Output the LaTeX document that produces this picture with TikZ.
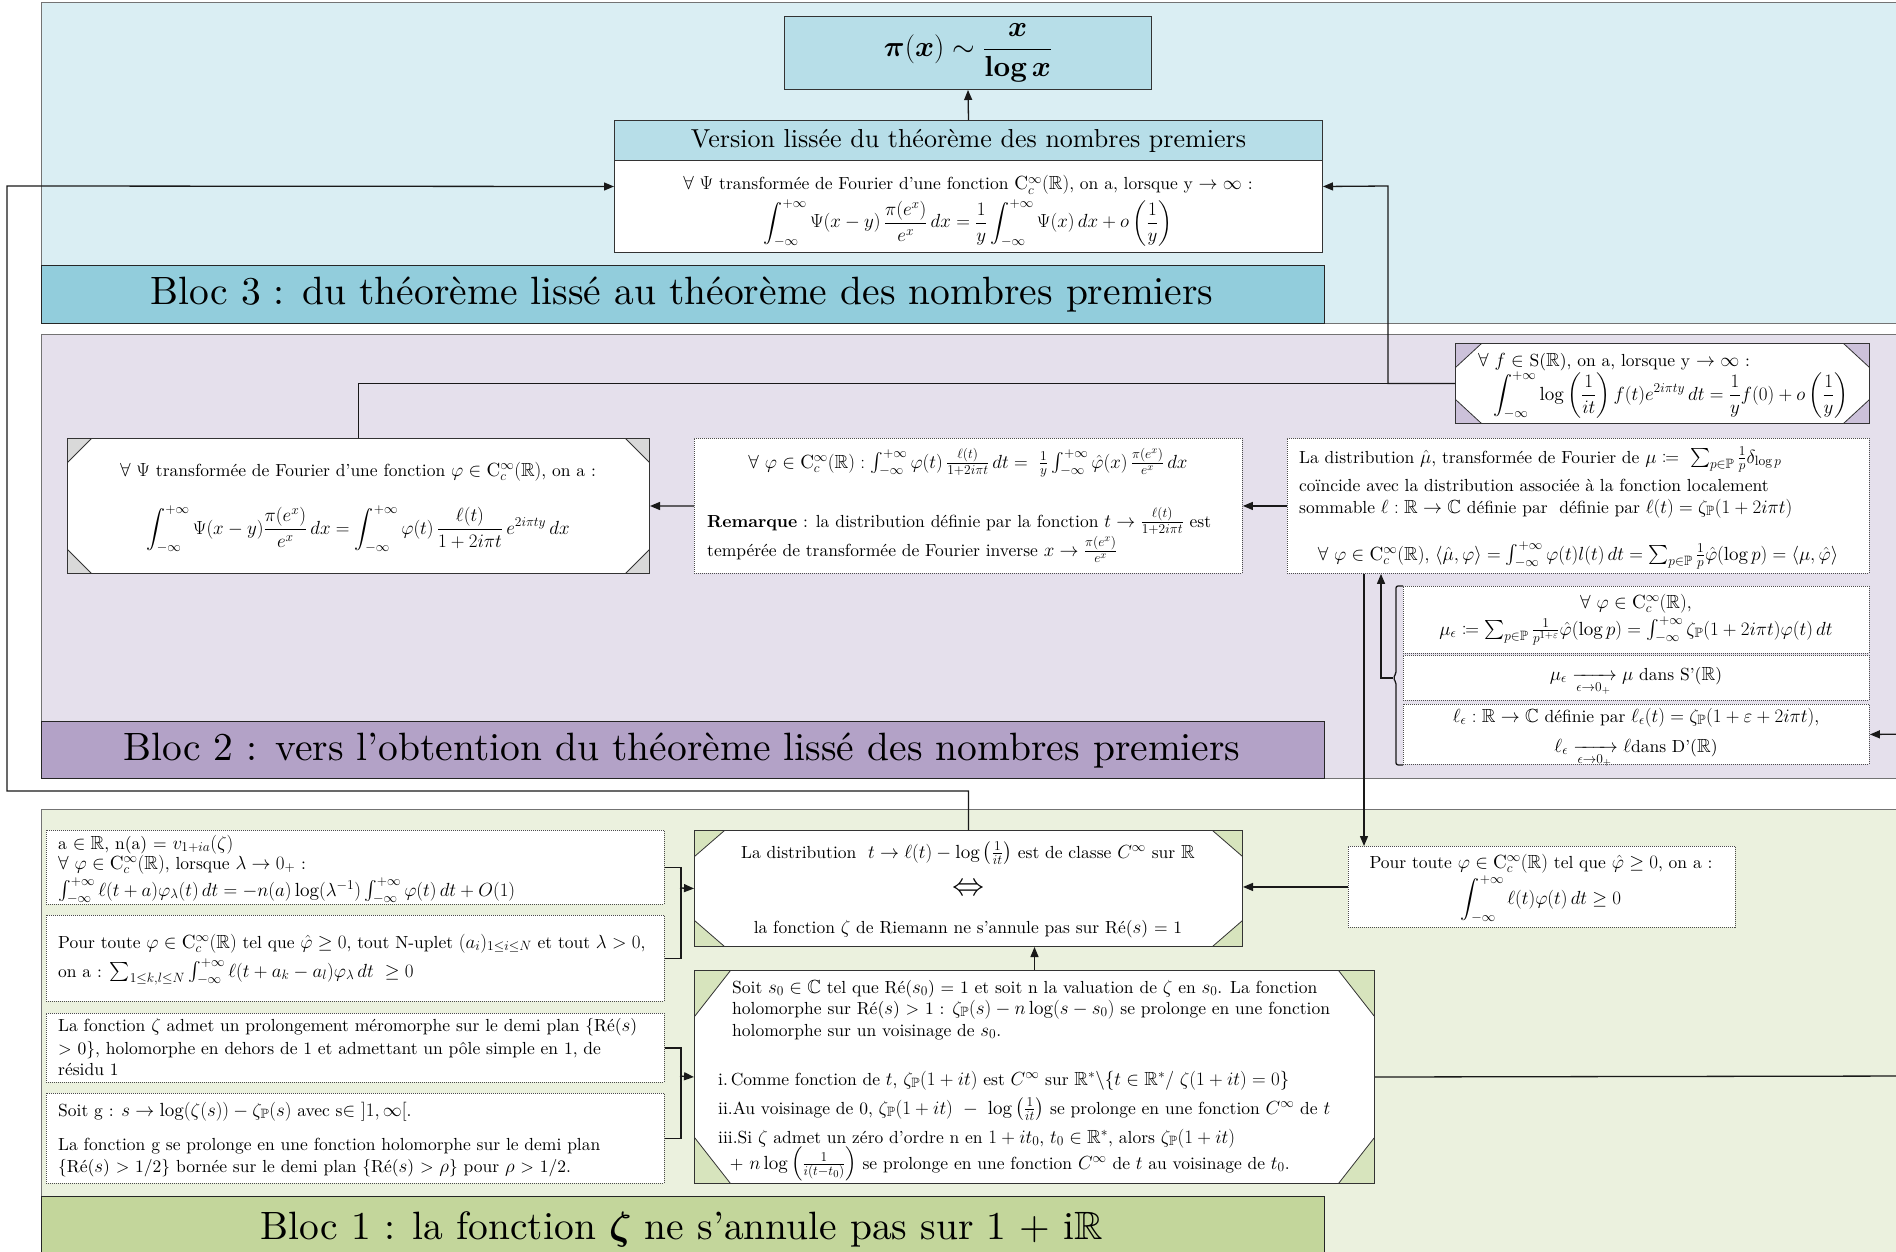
\RequirePackage{fix-cm}
\documentclass[tikz,border=0pt]{standalone}
\usepackage{amsmath,amssymb,mathtools}
\usepackage{fontspec}
\setmainfont{lmroman10-regular.otf}[BoldFont=lmroman10-bold.otf, ItalicFont=lmroman10-italic.otf, BoldItalicFont=lmroman10-bolditalic.otf]
\DeclareMathSizes{17.5}{19}{13.5}{10.5}
\usetikzlibrary{arrows.meta,calc}
\definecolor{bgthree}{HTML}{DAEEF3}
\definecolor{fillpi}{HTML}{B7DEE8}
\definecolor{labthree}{HTML}{92CDDC}
\definecolor{bgtwo}{HTML}{E5E0EC}
\definecolor{labtwo}{HTML}{B3A2C7}
\definecolor{cornlilac}{HTML}{CCC1DA}
\definecolor{corngray}{HTML}{D9D9D9}
\definecolor{bgone}{HTML}{EBF1DE}
\definecolor{labone}{HTML}{C3D69B}
\definecolor{corngreen}{HTML}{D7E4BD}
\newcommand\bodyfont{\fontsize{17.5}{21}\selectfont}
\newcommand\pifont{\fontsize{29}{35}\selectfont}
\newcommand\headfont{\fontsize{26}{30}\selectfont}
\newcommand\eqvfont{\fontsize{32}{36}\selectfont}
\newcommand\Ccinf{\mathrm{C}^{\infty}_{c}(\mathbb{R})}
\newcommand\zP{\zeta_{\mathbb{P}}}
\begin{document}
\begin{tikzpicture}[x=1pt,y=-1pt,
  panel/.style={draw=black!55, line width=1.2pt, inner sep=0pt, anchor=north west},
  label/.style={draw=black!85, line width=1.2pt, inner sep=0pt, anchor=north west},
  solidbox/.style={draw=black!80, line width=1pt, inner sep=0pt, anchor=north west},
  dotbox/.style={draw=black!70, line width=0.9pt, dash pattern=on 1pt off 1pt, fill=white, inner sep=0pt, anchor=north west},
  snip/.style n args={3}{draw=black!80, line width=1pt, fill=white, inner sep=0pt, anchor=north west,
    path picture={
      \path (path picture bounding box.north west) coordinate (pwa)
            (path picture bounding box.north east) coordinate (pwb)
            (path picture bounding box.south west) coordinate (pwc)
            (path picture bounding box.south east) coordinate (pwd);
      \filldraw[fill=#1, draw=black!80, line width=0.8pt] (pwa) -- ++(#2,0pt) -- ++(-#2,-#3) -- cycle;
      \filldraw[fill=#1, draw=black!80, line width=0.8pt] (pwb) -- ++(-#2,0pt) -- ++(#2,-#3) -- cycle;
      \filldraw[fill=#1, draw=black!80, line width=0.8pt] (pwc) -- ++(#2,0pt) -- ++(-#2,#3) -- cycle;
      \filldraw[fill=#1, draw=black!80, line width=0.8pt] (pwd) -- ++(-#2,0pt) -- ++(#2,#3) -- cycle;
    }},
  conn/.style={draw=black!90, line width=1.3pt},
  arr/.style={conn, -{Triangle[length=10pt,width=8pt]}},
  tl/.style={inner sep=0pt, anchor=base west, font=\bodyfont},
  tc/.style={inner sep=0pt, anchor=base, font=\bodyfont},
  labtxt/.style={inner sep=0pt, font=\fontsize{39.5}{46}\selectfont}
]
\useasboundingbox (0,0) rectangle (1896,1252);
\clip (0,0) rectangle (1896,1252);

% ---------- panels ----------
\node[panel, fill=bgthree, minimum width=1880pt, minimum height=321pt] (p3) at (41,2) {};
\node[panel, fill=bgtwo, minimum width=1880pt, minimum height=444pt] (p2) at (41,334) {};
\node[panel, fill=bgone, minimum width=1880pt, minimum height=460pt] (p1) at (41,809) {};

\node[label, fill=labthree, minimum width=1283pt, minimum height=58pt] (lab3) at (41,265) {};
\node[label, fill=labtwo, minimum width=1283pt, minimum height=57pt] (lab2) at (41,721) {};
\node[label, fill=labone, minimum width=1283pt, minimum height=70pt] (lab1) at (41,1196) {};
\node[labtxt] (lab3t) at (682,295) {Bloc 3 : du théorème lissé au théorème des nombres premiers};
\node[labtxt] (lab2t) at (682,751) {Bloc 2 : vers l’obtention du théorème lissé des nombres premiers};
\node[labtxt] (lab1t) at (682,1229) {Bloc 1 : la fonction $\boldsymbol{\zeta}$ ne s’annule pas sur 1 + i$\mathbb{R}$};

% ---------- bloc 3 boxes ----------
\node[solidbox, fill=fillpi, minimum width=367pt, minimum height=73pt, font=\pifont] (piB) at (784,16) {$\boldsymbol{\pi}(\boldsymbol{x})\sim\dfrac{\boldsymbol{x}}{\mathbf{log}\,\boldsymbol{x}}$};
\node[solidbox, fill=fillpi, minimum width=708pt, minimum height=40pt, font=\headfont] (verh) at (614,120) {Version lissée du théorème des nombres premiers};
\node[solidbox, fill=white, minimum width=708pt, minimum height=92pt] (verb) at (614,160) {};

% ---------- bloc 2 boxes ----------
\node[snip={cornlilac}{26pt}{24pt}, minimum width=414pt, minimum height=80pt] (fS) at (1455,343) {};
\node[snip={corngray}{24pt}{24pt}, minimum width=582pt, minimum height=135pt] (b2l) at (67,438) {};
\node[dotbox, minimum width=548pt, minimum height=135pt] (b2m) at (694,438) {};
\node[dotbox, minimum width=582pt, minimum height=135pt] (b2r) at (1287,438) {};
\node[dotbox, minimum width=466pt, minimum height=67pt] (bA) at (1403,586) {};
\node[dotbox, minimum width=466pt, minimum height=45pt] (bB) at (1403,655) {};
\node[dotbox, minimum width=466pt, minimum height=60pt] (bC) at (1403,704) {};

% ---------- bloc 1 boxes ----------
\node[dotbox, minimum width=618pt, minimum height=74pt] (L1) at (46,830) {};
\node[dotbox, minimum width=618pt, minimum height=86pt] (L2) at (46,915) {};
\node[dotbox, minimum width=618pt, minimum height=69pt] (L3) at (46,1013) {};
\node[dotbox, minimum width=618pt, minimum height=90pt] (L4) at (46,1093) {};
\node[snip={corngreen}{30pt}{26pt}, minimum width=548pt, minimum height=116pt] (M1) at (694,830) {};
\node[snip={corngreen}{36pt}{46pt}, minimum width=680pt, minimum height=213pt] (M2) at (694,970) {};
\node[dotbox, minimum width=387pt, minimum height=81pt] (Pr) at (1348,846) {};

% ---------- connectors ----------
\coordinate (lka) at (7,791);
\coordinate (lkb) at (7,186);
\coordinate (rka) at (1388,186);
\coordinate (rea) at (1920,1076);
\coordinate (reb) at (1920,734);
\coordinate (lbr) at (680,888);
\coordinate (lbs) at (680,1076);
\draw[arr] (verh.north) -- (piB.south);
\draw[arr] (M1.north) |- (lka) -- (lkb) -- ([yshift=20pt]verb.west);
\draw[arr] (fS.west) -| (rka) -- ([yshift=20pt]verb.east);
\draw[conn] (fS.west) -| (b2l.north);
\draw[arr] (b2m.west) -- (b2l.east);
\draw[arr] (b2r.west) -- (b2m.east);
\draw[conn, rounded corners=2pt] (bA.north west) -- ([xshift=-7pt]bA.north west) -- ([xshift=-7pt,yshift=4pt]bB.west) -- ([xshift=-10pt]bB.west) -- ([xshift=-7pt,yshift=-4pt]bB.west) -- ([xshift=-7pt]bC.south west) -- (bC.south west);
\draw[arr] ([xshift=-10pt]bB.west) -| ([xshift=94pt]b2r.south west);
\draw[arr] ([xshift=77pt]b2r.south west) -- ([xshift=16pt]Pr.north west);
\draw[arr] (M2.east) -- (rea) -- (reb) -- (bC.east);
\draw[arr] (Pr.west) -- (Pr.west -| M1.east);
\draw[arr] (M2.north) -- (M2.north |- M1.south);
\draw[conn] (L1.east) -- ++(16pt,0pt) |- (L2.east);
\draw[arr] (lbr) -- (M1.west);
\draw[conn] (L3.east) -- ++(16pt,0pt) |- (L4.east);
\draw[arr] (lbs) -- (M2.west);

% ---------- texts bloc 3 ----------
\node[tc] (verba) at (968,190) {$\forall$ $\Psi$ transformée de Fourier d’une fonction $\Ccinf$, on a, lorsque y $\rightarrow\infty$ :};
\node[tc] (verbb) at (968,228) {$\displaystyle\int_{-\infty}^{+\infty}\Psi(x-y)\,\frac{\pi(e^{x})}{e^{x}}\,dx = \frac{1}{y}\int_{-\infty}^{+\infty}\Psi(x)\,dx + o\left(\frac{1}{y}\right)$};

% ---------- texts bloc 2 ----------
\node[tl] (fSa) at (1478,366) {$\forall$ $f\in$ S($\mathbb{R}$), on a, lorsque y $\rightarrow\infty$ :};
\node[tl] (fSb) at (1493,400) {$\displaystyle\int_{-\infty}^{+\infty}\log\left(\frac{1}{it}\right)f(t)e^{2i\pi ty}\,dt = \frac{1}{y}f(0)+o\left(\frac{1}{y}\right)$};

\node[tc] (b2la) at (358,476) {$\forall$ $\Psi$ transformée de Fourier d’une fonction $\varphi\in\Ccinf$, on a :};
\node[tc] (b2lb) at (358,534) {$\displaystyle\int_{-\infty}^{+\infty}\Psi(x-y)\frac{\pi(e^{x})}{e^{x}}\,dx = \int_{-\infty}^{+\infty}\varphi(t)\,\frac{\ell(t)}{1+2i\pi t}\,e^{2i\pi ty}\,dx$};

\node[tc] (b2ma) at (968,468) {$\forall\ \varphi\in\Ccinf : \int_{-\infty}^{+\infty}\varphi(t)\,\frac{\ell(t)}{1+2i\pi t}\,dt = \ \frac{1}{y}\int_{-\infty}^{+\infty}\hat{\varphi}(x)\,\frac{\pi(e^{x})}{e^{x}}\,dx$};
\node[tl] (b2mb) at (707,527) {\textbf{Remarque} : la distribution définie par la fonction $t\rightarrow\frac{\ell(t)}{1+2i\pi t}$ est};
\node[tl] (b2mc) at (707,556) {tempérée de transformée de Fourier inverse $x\rightarrow\frac{\pi(e^{x})}{e^{x}}$};

\node[tl] (b2ra) at (1299,463) {La distribution $\hat{\mu}$, transformée de Fourier de $\mu\coloneqq\ \sum_{p\in\mathbb{P}}\frac{1}{p}\delta_{\log p}$};
\node[tl] (b2rb) at (1299,491) {coïncide avec la distribution associée à la fonction localement};
\node[tl] (b2rc) at (1299,513) {sommable $\ell:\mathbb{R}\rightarrow\mathbb{C}$ définie par\ \ définie par $\ell(t)=\zP(1+2i\pi t)$};
\node[tc] (b2rd) at (1578,560) {$\forall\ \varphi\in\Ccinf$, $\langle\hat{\mu},\varphi\rangle=\int_{-\infty}^{+\infty}\varphi(t)l(t)\,dt=\sum_{p\in\mathbb{P}}\frac{1}{p}\hat{\varphi}(\log p)=\langle\mu,\hat{\varphi}\rangle$};

\node[tc] (bAa) at (1636,608) {$\forall\ \varphi\in\Ccinf$,};
\node[tc] (bAb) at (1636,635) {$\mu_{\epsilon}\coloneqq\sum_{p\in\mathbb{P}}\frac{1}{p^{1+\varepsilon}}\hat{\varphi}(\log p)=\int_{-\infty}^{+\infty}\zP(1+2i\pi t)\varphi(t)\,dt$};
\node[tc] (bBa) at (1636,680) {$\mu_{\epsilon}\xrightarrow[\epsilon\to0_{+}]{}\mu$ dans S’($\mathbb{R}$)};
\node[tc] (bCa) at (1636,722) {$\ell_{\epsilon}:\mathbb{R}\rightarrow\mathbb{C}$ définie par $\ell_{\epsilon}(t)=\zP(1+\varepsilon+2i\pi t)$,};
\node[tc] (bCb) at (1636,752) {$\ell_{\epsilon}\xrightarrow[\epsilon\to0_{+}]{}\ell$dans D’($\mathbb{R}$)};

% ---------- texts bloc 1 ----------
\node[tl] (L1a) at (58,849) {a $\in\mathbb{R}$, n(a) = $v_{1+ia}(\zeta)$};
\node[tl] (L1b) at (58,869) {$\forall\ \varphi\in\Ccinf$, lorsque $\lambda\rightarrow0_{+}$ :};
\node[tl] (L1c) at (58,896) {$\int_{-\infty}^{+\infty}\ell(t+a)\varphi_{\lambda}(t)\,dt=-n(a)\log(\lambda^{-1})\int_{-\infty}^{+\infty}\varphi(t)\,dt+O(1)$};
\node[tl] (L2a) at (58,948) {Pour toute $\varphi\in\Ccinf$ tel que $\hat{\varphi}\geq0$, tout N-uplet $(a_i)_{1\leq i\leq N}$ et tout $\lambda>0$,};
\node[tl] (L2b) at (58,977) {on a : $\sum_{1\leq k,l\leq N}\int_{-\infty}^{+\infty}\ell(t+a_k-a_l)\varphi_{\lambda}\,dt\ \geq0$};
\node[tl] (L3a) at (58,1031) {La fonction $\zeta$ admet un prolongement méromorphe sur le demi plan \{Ré($s$)};
\node[tl] (L3b) at (58,1054) {> 0\}, holomorphe en dehors de 1 et admettant un pôle simple en 1, de};
\node[tl] (L3c) at (58,1075) {résidu 1};
\node[tl] (L4a) at (58,1116) {Soit g : $s\rightarrow\log(\zeta(s))-\zP(s)$ avec s$\in$ $]1,\infty[$.};
\node[tl] (L4b) at (58,1150) {La fonction g se prolonge en une fonction holomorphe sur le demi plan};
\node[tl] (L4c) at (58,1172) {\{Ré($s$) > 1/2\} bornée sur le demi plan \{Ré($s$) > $\rho$\} pour $\rho$ > 1/2.};

\node[tc] (M1a) at (968,858) {La distribution\ \ $t\rightarrow\ell(t)-\log\left(\frac{1}{it}\right)$ est de classe $C^{\infty}$ sur $\mathbb{R}$};
\node[tc, font=\eqvfont] (M1b) at (968,895) {$\Leftrightarrow$};
\node[tc] (M1c) at (968,933) {la fonction $\zeta$ de Riemann ne s’annule pas sur Ré($s$) = 1};

\node[tl] (M2a) at (732,993) {Soit $s_0\in\mathbb{C}$ tel que Ré($s_0$) = 1 et soit n la valuation de $\zeta$ en $s_0$. La fonction};
\node[tl] (M2b) at (732,1014) {holomorphe sur Ré($s$) > 1 : $\zP(s)-n\log(s-s_0)$ se prolonge en une fonction};
\node[tl] (M2c) at (732,1036) {holomorphe sur un voisinage de $s_0$.};
\node[tl] (M2d) at (718,1085) {i.\,Comme fonction de $t$, $\zP(1+it)$ est $C^{\infty}$ sur $\mathbb{R}^{*}\backslash\{t\in\mathbb{R}^{*}/\ \zeta(1+it)=0\}$};
\node[tl] (M2e) at (718,1114) {ii.Au voisinage de 0, $\zP(1+it)\ -\ \log\left(\frac{1}{it}\right)$ se prolonge en une fonction $C^{\infty}$ de $t$};
\node[tl] (M2f) at (718,1143) {iii.Si $\zeta$ admet un zéro d’ordre n en $1+it_0$, $t_0\in\mathbb{R}^{*}$, alors $\zP(1+it)$};
\node[tl] (M2g) at (718,1169) {\ \ + $n\log\left(\frac{1}{i(t-t_0)}\right)$ se prolonge en une fonction $C^{\infty}$ de $t$ au voisinage de $t_0$.};

\node[tc] (Pra) at (1541,868) {Pour toute $\varphi\in\Ccinf$ tel que $\hat{\varphi}\geq0$, on a :};
\node[tc] (Prb) at (1541,904) {$\displaystyle\int_{-\infty}^{+\infty}\ell(t)\varphi(t)\,dt\geq0$};
\end{tikzpicture}
\end{document}
